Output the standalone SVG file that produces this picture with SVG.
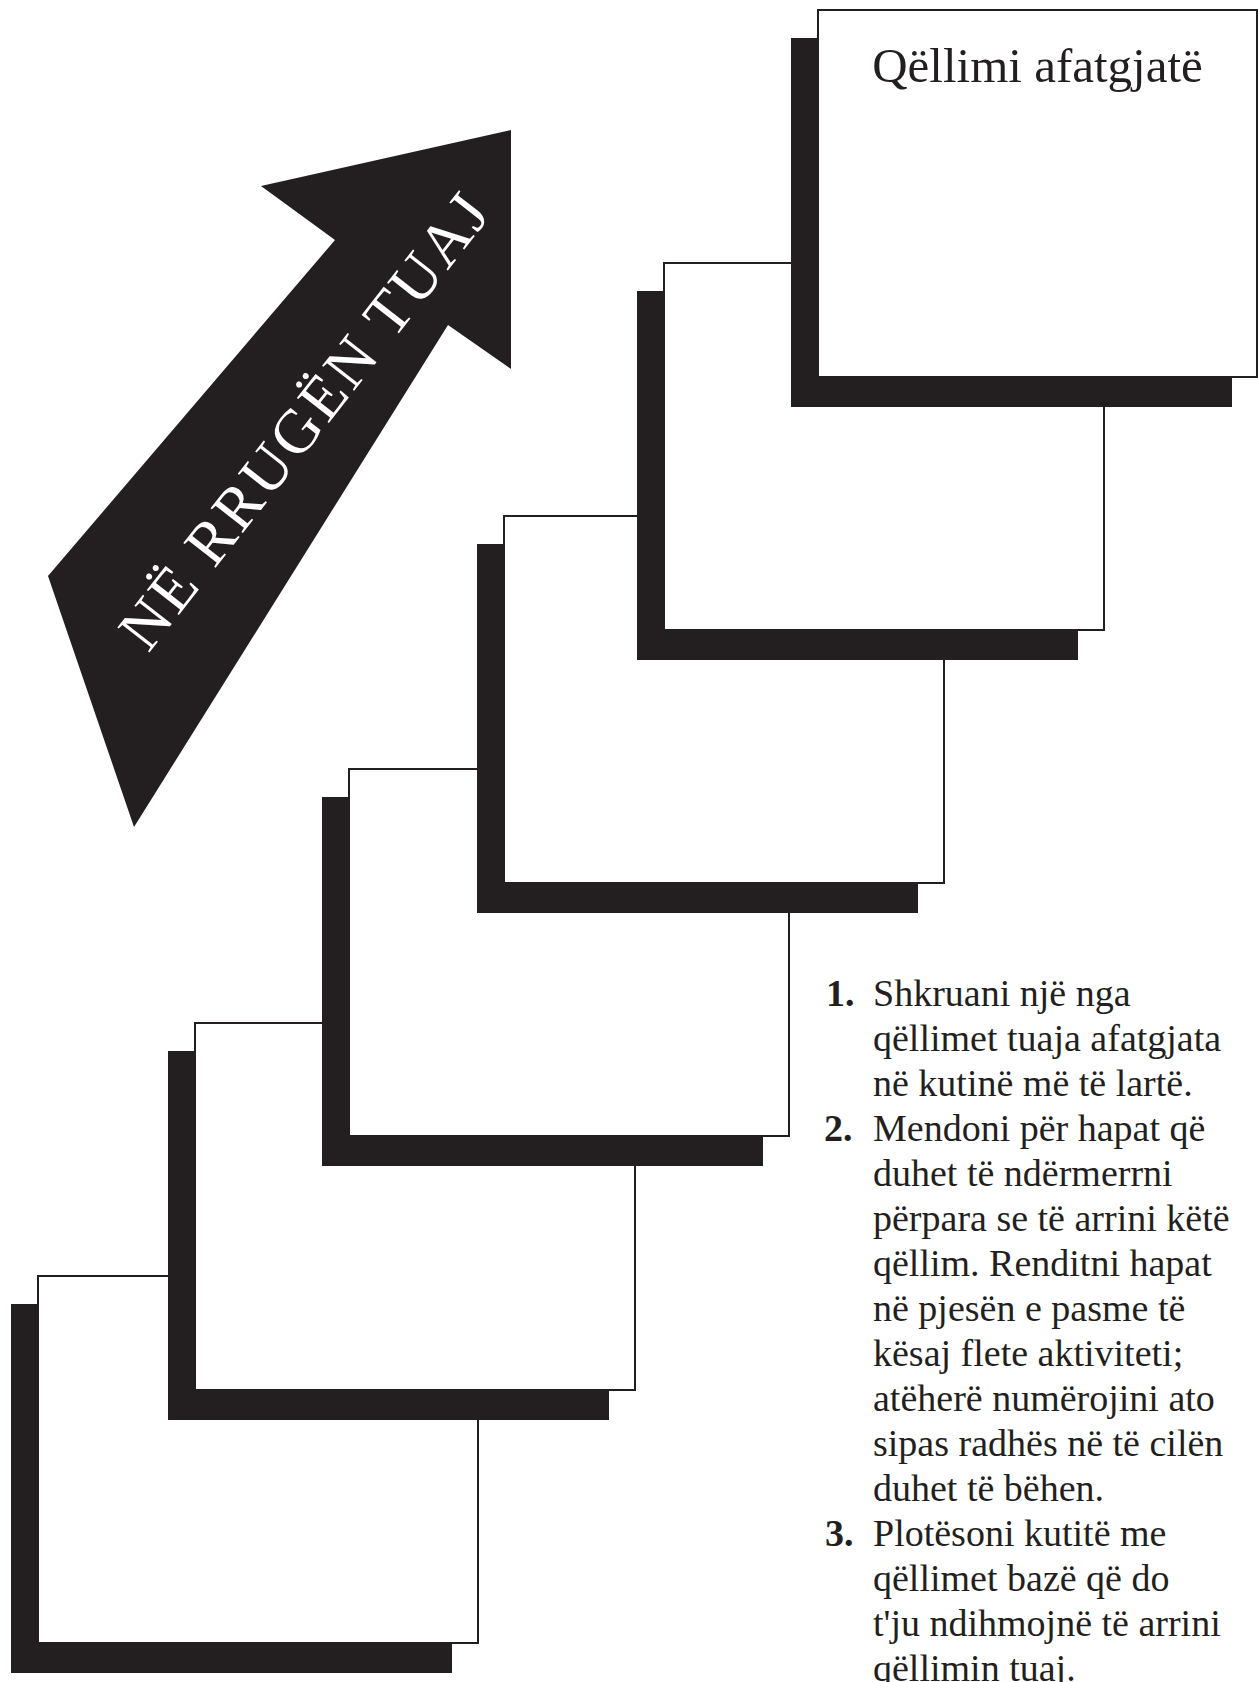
<svg xmlns="http://www.w3.org/2000/svg" width="1258" height="1682" viewBox="0 0 1258 1682">
  <style>
    .shadow { fill: #231f20; }
    .box { fill: #ffffff; stroke: #231f20; stroke-width: 2; }
    .title { font-family: "Liberation Serif", "Times New Roman", serif; font-size: 49px; fill: #231f20; }
    .txt { font-family: "Liberation Serif", "Times New Roman", serif; font-size: 38px; fill: #231f20; }
    .num { font-family: "Liberation Serif", "Times New Roman", serif; font-size: 38px; font-weight: bold; fill: #231f20; }
    .arrowtxt { font-family: "Liberation Serif", "Times New Roman", serif; font-size: 62px; fill: #ffffff; letter-spacing: 3px; }
  </style>
  <rect width="1258" height="1682" fill="#ffffff"/>

  <g id="arrow">
    <polygon points="511,130 511,369 448,325 134,827 48,576 335,240 261,186" fill="#231f20"/>
    <text class="arrowtxt" transform="translate(321,433) rotate(-52)" text-anchor="middle" x="0" y="0">NË RRUGËN TUAJ</text>
  </g>

  <g id="connectors"></g>

  <g id="step1">
    <rect class="shadow" x="11" y="1304" width="441" height="369"/>
    <rect class="box" x="38" y="1276" width="440" height="367"/>
  </g>
  <g id="step2">
    <rect class="shadow" x="168" y="1051" width="441" height="369"/>
    <rect class="box" x="195" y="1023" width="440" height="367"/>
  </g>
  <g id="step3">
    <rect class="shadow" x="322" y="797" width="441" height="369"/>
    <rect class="box" x="349" y="769" width="440" height="367"/>
  </g>
  <g id="step4">
    <rect class="shadow" x="477" y="544" width="441" height="369"/>
    <rect class="box" x="504" y="516" width="440" height="367"/>
  </g>
  <g id="step5">
    <rect class="shadow" x="637" y="291" width="441" height="369"/>
    <rect class="box" x="664" y="263" width="440" height="367"/>
  </g>
  <g id="goal">
    <rect class="shadow" x="791" y="38" width="441" height="369"/>
    <rect class="box" x="818" y="10" width="439" height="367"/>
    <text class="title" x="1037.5" y="82" text-anchor="middle">Qëllimi afatgjatë</text>
  </g>

  <g id="instructions">
    <text class="num" x="826" y="1006">1.</text>
    <text class="txt" x="873" y="1006">Shkruani një nga</text>
    <text class="txt" x="873" y="1051">qëllimet tuaja afatgjata</text>
    <text class="txt" x="873" y="1096">në kutinë më të lartë.</text>
    <text class="num" x="824" y="1141">2.</text>
    <text class="txt" x="873" y="1141">Mendoni për hapat që</text>
    <text class="txt" x="873" y="1186">duhet të ndërmerrni</text>
    <text class="txt" x="873" y="1231">përpara se të arrini këtë</text>
    <text class="txt" x="873" y="1276">qëllim. Renditni hapat</text>
    <text class="txt" x="873" y="1321">në pjesën e pasme të</text>
    <text class="txt" x="873" y="1366">kësaj flete aktiviteti;</text>
    <text class="txt" x="873" y="1411">atëherë numërojini ato</text>
    <text class="txt" x="873" y="1456">sipas radhës në të cilën</text>
    <text class="txt" x="873" y="1501">duhet të bëhen.</text>
    <text class="num" x="825" y="1546">3.</text>
    <text class="txt" x="873" y="1546">Plotësoni kutitë me</text>
    <text class="txt" x="873" y="1591">qëllimet bazë që do</text>
    <text class="txt" x="873" y="1636">t'ju ndihmojnë të arrini</text>
    <text class="txt" x="873" y="1681">qëllimin tuaj.</text>
  </g>
</svg>
